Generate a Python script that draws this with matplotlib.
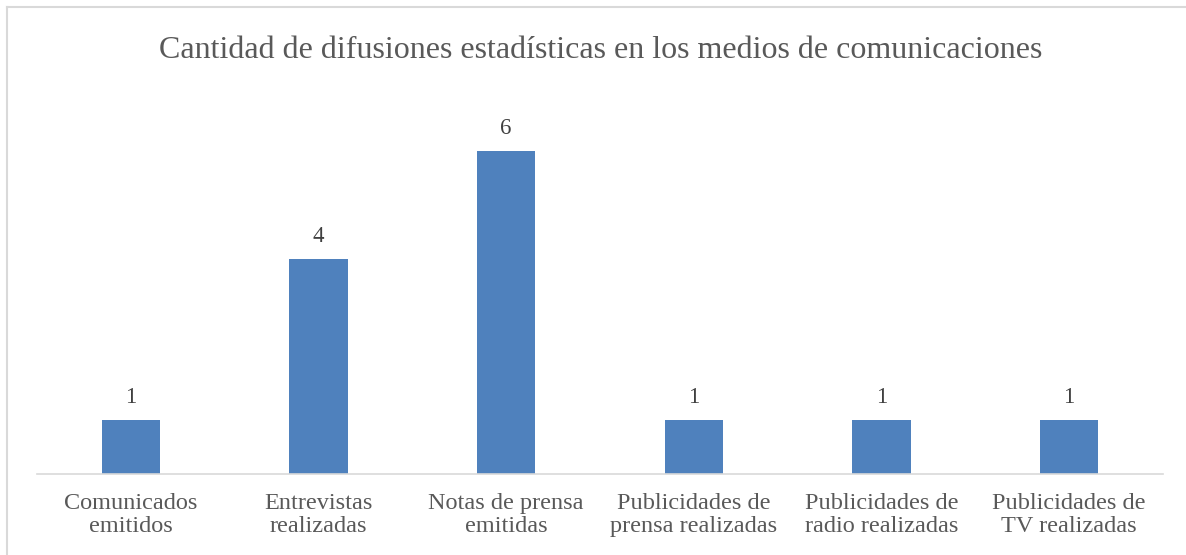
import matplotlib.pyplot as plt
from matplotlib.lines import Line2D

categories = ["Comunicados\nemitidos", "Entrevistas\nrealizadas", "Notas de prensa\nemitidas",
              "Publicidades de\nprensa realizadas", "Publicidades de\nradio realizadas",
              "Publicidades de\nTV realizadas"]
values = [1, 4, 6, 1, 1, 1]

plt.rcParams['font.family'] = ['Liberation Serif', 'DejaVu Serif']

W, H = 1186, 555
fig = plt.figure(figsize=(W / 100, H / 100), dpi=100)

# chart frame: only top and left edges are visible in the screenshot
edge = 6.5
fig.add_artist(Line2D([edge / W, 1.0], [1 - edge / H, 1 - edge / H], transform=fig.transFigure,
                      color="#d9d9d9", linewidth=1.5))
fig.add_artist(Line2D([edge / W, edge / W], [0.0, 1 - edge / H], transform=fig.transFigure,
                      color="#d9d9d9", linewidth=1.5))

x0, x1, base = 37, 1163, 474
unit = 53.8
ax = fig.add_axes([x0 / W, (H - base) / H, (x1 - x0) / W, 7 * unit / H])
x = range(len(values))
bars = ax.bar(x, values, width=0.31, color="#4f81bd")
ax.set_xlim(-0.5, len(values) - 0.5)
ax.set_ylim(0, 7)

for b, v in zip(bars, values):
    ax.annotate(str(v), (b.get_x() + b.get_width() / 2, v), xytext=(0, 17),
                textcoords="offset pixels", ha="center", va="baseline",
                fontsize=16.5, color="#404040")

ax.set_xticks(list(x))
ax.set_xticklabels(categories, fontsize=17.5, color="#595959", linespacing=1.15)
ax.tick_params(axis="x", length=0, pad=13.5)
ax.set_yticks([])
for s in ["top", "right", "left"]:
    ax.spines[s].set_visible(False)
ax.spines["bottom"].set_color("#d9d9d9")
ax.spines["bottom"].set_linewidth(1.2)

fig.text(601 / W, 1 - 50 / H, "Cantidad de difusiones estadísticas en los medios de comunicaciones",
         ha="center", va="center", fontsize=23, color="#595959")

fig.savefig("out.png", dpi=100)
